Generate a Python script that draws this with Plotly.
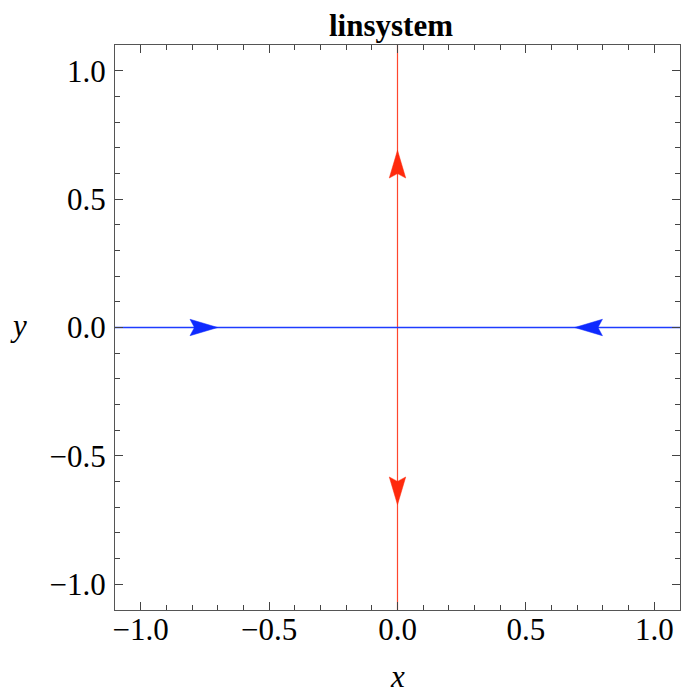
import plotly.graph_objects as go

# ---- data ----
title_text = "linsystem"
x_label = "x"
y_label = "y"
axis_range = [-1.1, 1.1]
tick_vals = [-1.0, -0.5, 0.0, 0.5, 1.0]
tick_text = ["\u22121.0", "\u22120.5", "0.0", "0.5", "1.0"]

# stream lines (unstable direction along y, stable along x)
red_line_x = [0.0, 0.0]
red_line_y = [-1.1, 1.1]
blue_line_x = [-1.1, 1.1]
blue_line_y = [0.0, 0.0]

# arrow tips and directions
red_arrow_x = [0.0, 0.0]
red_arrow_y = [0.69, -0.69]
red_arrow_dx = [0.0, 0.0]
red_arrow_dy = [1.0, -1.0]
blue_arrow_x = [-0.70, 0.69]
blue_arrow_y = [0.0, 0.0]
blue_arrow_dx = [1.0, -1.0]
blue_arrow_dy = [0.0, 0.0]

RED = "rgb(255,42,12)"
BLUE = "rgb(14,42,255)"
RED_LINE = "rgb(255,70,45)"
BLUE_LINE = "rgb(30,60,255)"
FONT = "Liberation Serif"
FS = 31

ARROW_LEN = 0.108
ARROW_HW = 0.032
NOTCH = 0.16


def arrow_poly(xs, ys, dxs, dys):
    px, py = [], []
    for x, y, dx, dy in zip(xs, ys, dxs, dys):
        nx, ny = -dy, dx
        pts = [
            (x, y),
            (x - dx * ARROW_LEN + nx * ARROW_HW, y - dy * ARROW_LEN + ny * ARROW_HW),
            (x - dx * ARROW_LEN * (1 - NOTCH), y - dy * ARROW_LEN * (1 - NOTCH)),
            (x - dx * ARROW_LEN - nx * ARROW_HW, y - dy * ARROW_LEN - ny * ARROW_HW),
            (x, y),
        ]
        for a, b in pts:
            px.append(a)
            py.append(b)
        px.append(None)
        py.append(None)
    return px, py


fig = go.Figure()
fig.add_trace(go.Scatter(x=red_line_x, y=red_line_y, mode="lines",
                         line=dict(color=RED_LINE, width=1.2), hoverinfo="skip"))
fig.add_trace(go.Scatter(x=blue_line_x, y=blue_line_y, mode="lines",
                         line=dict(color=BLUE_LINE, width=1.6), hoverinfo="skip"))
ax, ay = arrow_poly(red_arrow_x, red_arrow_y, red_arrow_dx, red_arrow_dy)
fig.add_trace(go.Scatter(x=ax, y=ay, mode="lines", fill="toself", fillcolor=RED,
                         line=dict(color=RED, width=0.5), hoverinfo="skip"))
bx, by = arrow_poly(blue_arrow_x, blue_arrow_y, blue_arrow_dx, blue_arrow_dy)
fig.add_trace(go.Scatter(x=bx, y=by, mode="lines", fill="toself", fillcolor=BLUE,
                         line=dict(color=BLUE, width=0.5), hoverinfo="skip"))

axis_common = dict(
    range=axis_range,
    tickvals=tick_vals,
    ticktext=tick_text,
    ticks="inside",
    ticklen=8,
    tickwidth=1,
    tickcolor="#444",
    showline=True,
    linecolor="#555",
    linewidth=1.2,
    mirror="ticks",
    showgrid=False,
    zeroline=False,
    tickfont=dict(family=FONT, size=FS, color="black"),
    minor=dict(dtick=0.1, ticks="inside", ticklen=4.5, tickcolor="#444", tickwidth=1, showgrid=False),
    fixedrange=True,
)

fig.update_layout(
    width=681,
    height=694,
    margin=dict(l=115, r=1, t=45, b=84),
    plot_bgcolor="white",
    paper_bgcolor="white",
    showlegend=False,
    xaxis=dict(**axis_common, ticklabelstandoff=-8),
    yaxis=dict(**axis_common, ticklabelstandoff=2),
    annotations=[
        dict(text="<b>" + title_text + "</b>", xref="paper", yref="paper", x=0.488, y=1.035,
             xanchor="center", yanchor="middle", showarrow=False,
             font=dict(family=FONT, size=FS, color="black")),
        dict(text="<i>" + x_label + "</i>", xref="paper", yref="paper", x=0.5, y=-0.1487,
             xanchor="center", yanchor="bottom", showarrow=False, yshift=-2,
             font=dict(family=FONT, size=FS, color="black")),
        dict(text="<i>" + y_label + "</i>", xref="paper", yref="paper", x=-0.170, y=0.504,
             xanchor="center", yanchor="middle", showarrow=False,
             font=dict(family=FONT, size=FS, color="black")),
    ],
)

fig.write_html(
    "out.html",
    config={"displayModeBar": False},
    post_script="document.body.style.margin='0';document.body.style.overflow='hidden';",
)
